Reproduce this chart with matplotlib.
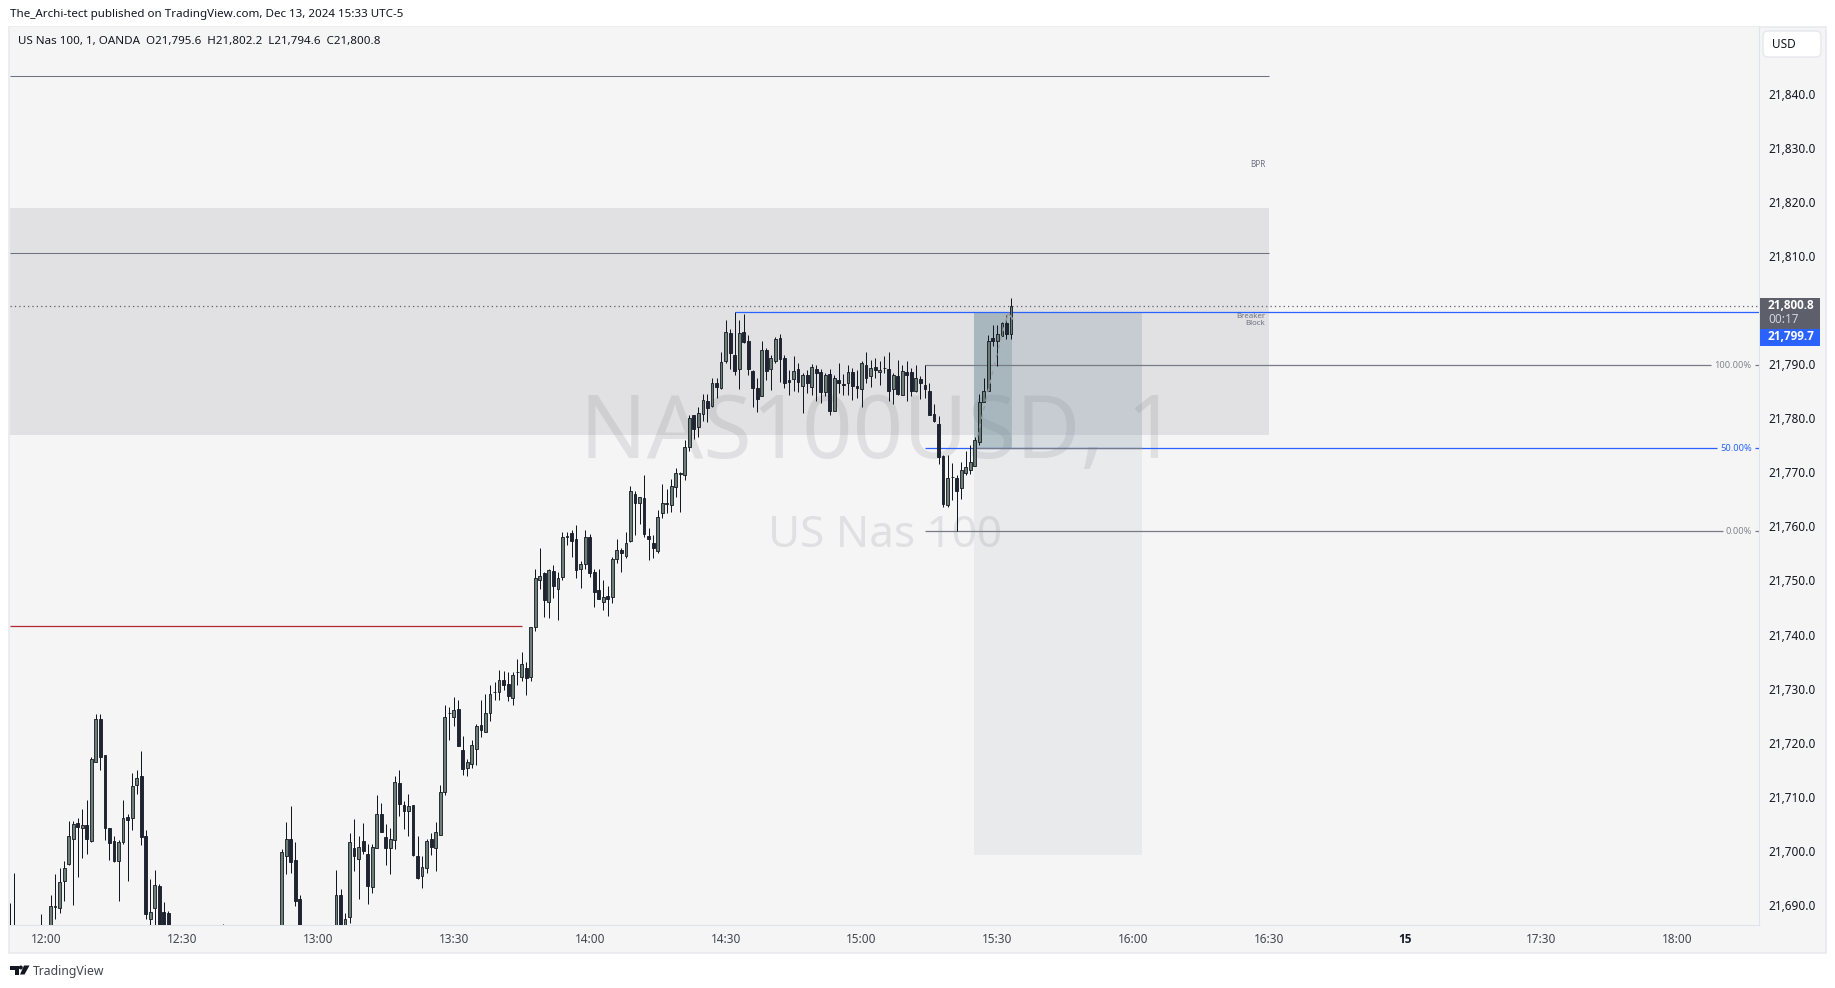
#!/usr/bin/env python3
# Recreates a 1 minute US Nas 100 TradingView snapshot
import matplotlib
matplotlib.use('Agg')
import matplotlib.pyplot as plt
from matplotlib.patches import Rectangle, FancyBboxPatch, Polygon, Circle
from matplotlib.transforms import blended_transform_factory
import numpy as np

W, H = 1835, 988
plt.rcParams['font.family'] = ['Noto Sans', 'DejaVu Sans']

''' Candles: minutes after 12:00, only the ones that show inside the window '''
minutes = [-8, -7, -1] + list(range(1, 28)) + [39] + list(range(52, 57)) + list(range(64, 214))

opens = [21680, 21680, 21680,
    21682, 21689.6, 21689.4, 21694.5, 21697.6, 21702.2, 21705.1, 21704.2, 21704.8, 21701.9,
    21716.5, 21724.3, 21717.7, 21704.3, 21701.8, 21698.2, 21701.7, 21706.2, 21706.0, 21712.1,
    21713.8, 21702.7, 21687.4, 21689.4, 21693.5, 21688.7, 21688.5,
    21680,
    21682, 21699.0, 21702.2, 21698.3, 21691.1,
    21684, 21691.9, 21684, 21687.8, 21700.5, 21698.5, 21701.8, 21699.4, 21693.4, 21700.5,
    21706.8, 21702.5, 21700.6, 21702.0, 21712.5, 21708.5, 21707.3, 21708.5, 21699.0, 21695.3,
    21696.8, 21702.2, 21700.5, 21702.9, 21710.8, 21725.4, 21724.8, 21726.3, 21718.6, 21715.4,
    21716.0, 21718.9, 21723.2, 21722.0, 21725.4, 21729.3, 21729.4, 21731.5, 21730.8, 21728.3,
    21733.0, 21732.2, 21733.8, 21732.1, 21741.3, 21750.0, 21751.3, 21746.1, 21751.7, 21748.5,
    21750.6, 21758.0, 21758.7, 21757.6, 21752.2, 21753.0, 21758.0, 21751.5, 21748.3, 21746.0,
    21747.1, 21746.9, 21754.0, 21755.6, 21754.6, 21757.3, 21766.0, 21764.4, 21765.2, 21758.3,
    21757.0, 21755.5, 21762.4, 21764.2, 21763.9, 21767.2, 21769.7, 21769.4, 21774.7, 21780.5,
    21778.3, 21780.8, 21783.1, 21782.3, 21786.4, 21785.5, 21790.6, 21795.7, 21791.6, 21789.0,
    21795.9, 21794.2, 21788.8, 21785.5, 21784.0, 21792.5, 21789.0, 21790.6, 21794.9, 21791.1,
    21787.0, 21787.3, 21789.0, 21786.0, 21787.9, 21785.8, 21789.0, 21788.6, 21784.9, 21788.1,
    21781.4, 21787.0, 21786.3, 21786.4, 21788.5, 21785.9, 21785.3, 21789.9, 21787.7, 21789.4,
    21788.5, 21789.2, 21789.0, 21785.3, 21787.7, 21784.3, 21788.6, 21788.5, 21785.1, 21787.2,
    21786.1, 21785.1, 21780.7, 21778.9, 21773.0, 21764.0, 21769.1, 21768.9, 21767.0, 21769.8,
    21770.5, 21771.2, 21775.5, 21783.0, 21785.1, 21794.9, 21794.3, 21795.1, 21797.5, 21795.6]

highs = [21690.4, 21695.9, 21688.4,
    21691.9, 21695.8, 21696.8, 21698.2, 21705.6, 21705.6, 21706.1, 21707.7, 21709.4, 21717.3,
    21725.3, 21725.3, 21717.7, 21704.3, 21702.8, 21702.0, 21709.4, 21706.8, 21714.4, 21715.0,
    21718.5, 21703.9, 21694.8, 21696.5, 21693.9, 21690.5, 21688.9,
    21686.5,
    21700.3, 21705.4, 21708.3, 21701.7, 21691.9,
    21696.5, 21693.0, 21688.5, 21703.3, 21705.9, 21702.8, 21705.1, 21701.2, 21701.2, 21710.3,
    21708.8, 21705.0, 21704.2, 21713.8, 21715.0, 21709.3, 21710.5, 21708.5, 21702.7, 21699.1,
    21702.2, 21703.3, 21705.4, 21712.1, 21727.0, 21726.6, 21728.4, 21727.9, 21721.2, 21717.0,
    21720.5, 21723.5, 21727.9, 21729.0, 21730.7, 21731.2, 21733.4, 21733.2, 21733.1, 21733.1,
    21735.5, 21736.7, 21735.0, 21741.3, 21752.1, 21756.0, 21751.6, 21752.2, 21752.8, 21751.5,
    21758.9, 21758.9, 21759.3, 21760.2, 21753.6, 21759.3, 21758.6, 21752.2, 21752.2, 21750.1,
    21749.0, 21754.3, 21757.6, 21755.9, 21758.9, 21767.5, 21766.5, 21765.5, 21769.5, 21759.6,
    21758.4, 21763.0, 21767.9, 21766.9, 21768.7, 21770.7, 21770.1, 21776.0, 21780.6, 21780.6,
    21782.1, 21784.4, 21784.4, 21787.5, 21787.5, 21792.2, 21798.1, 21796.5, 21799.6, 21798.1,
    21799.2, 21795.3, 21788.9, 21787.4, 21794.3, 21792.9, 21791.6, 21795.0, 21795.5, 21791.6,
    21788.9, 21791.5, 21790.1, 21788.3, 21788.9, 21790.0, 21789.8, 21789.1, 21788.3, 21789.0,
    21787.9, 21790.1, 21788.1, 21789.8, 21789.2, 21788.9, 21790.6, 21792.2, 21790.7, 21791.1,
    21790.6, 21791.5, 21792.3, 21788.3, 21790.7, 21789.8, 21790.6, 21789.2, 21789.8, 21787.7,
    21789.8, 21786.4, 21782.6, 21780.4, 21773.2, 21773.2, 21771.7, 21769.5, 21771.8, 21773.9,
    21775.0, 21776.6, 21784.5, 21787.4, 21795.4, 21797.3, 21797.2, 21797.7, 21799.1, 21802.2]

lows = [21678, 21678, 21678,
    21680, 21687.4, 21688.6, 21690.8, 21697.4, 21690.0, 21695.1, 21698.6, 21699.5, 21701.6,
    21716.5, 21714.9, 21702.1, 21698.4, 21697.9, 21690.8, 21701.3, 21694.5, 21703.8, 21710.5,
    21701.0, 21687.4, 21684, 21684, 21680, 21682, 21682,
    21678,
    21680, 21695.8, 21696.0, 21689.9, 21682,
    21682, 21682, 21682, 21686.6, 21696.2, 21691.1, 21699.5, 21690.2, 21692.3, 21700.5,
    21703.4, 21697.4, 21695.8, 21700.4, 21706.4, 21704.1, 21702.7, 21699.0, 21694.8, 21693.1,
    21695.9, 21699.2, 21696.2, 21702.9, 21710.4, 21720.5, 21723.1, 21719.3, 21714.0, 21713.9,
    21715.4, 21715.9, 21721.1, 21722.0, 21724.1, 21727.9, 21727.9, 21729.8, 21727.7, 21727.0,
    21730.7, 21731.4, 21728.8, 21731.4, 21740.7, 21748.4, 21743.3, 21743.0, 21746.8, 21742.6,
    21750.1, 21756.6, 21754.4, 21750.5, 21748.6, 21752.2, 21750.7, 21745.1, 21746.5, 21744.5,
    21743.5, 21745.9, 21753.3, 21751.6, 21754.2, 21757.1, 21758.4, 21760.5, 21758.1, 21753.7,
    21754.2, 21755.0, 21761.6, 21762.5, 21762.6, 21765.5, 21762.7, 21768.5, 21774.0, 21776.1,
    21776.6, 21779.5, 21779.2, 21782.1, 21783.8, 21785.3, 21790.2, 21789.1, 21788.0, 21785.3,
    21793.8, 21788.0, 21782.1, 21781.2, 21784.0, 21787.1, 21785.2, 21790.2, 21786.6, 21785.6,
    21784.3, 21785.0, 21784.9, 21781.0, 21784.6, 21784.3, 21783.2, 21782.8, 21784.0, 21780.6,
    21781.4, 21784.6, 21784.3, 21784.3, 21783.4, 21783.7, 21782.0, 21786.4, 21785.8, 21787.4,
    21786.1, 21788.3, 21783.2, 21782.7, 21784.3, 21784.3, 21783.2, 21784.1, 21784.9, 21783.6,
    21783.7, 21780.5, 21779.2, 21771.5, 21763.5, 21763.6, 21764.9, 21759.2, 21765.0, 21769.5,
    21769.6, 21771.2, 21775.0, 21783.0, 21785.0, 21793.3, 21789.6, 21795.1, 21794.7, 21794.6]

closes = [21680, 21680, 21680,
    21689.8, 21689.8, 21694.2, 21696.8, 21702.7, 21705.0, 21704.5, 21704.8, 21702.2, 21716.9,
    21724.3, 21717.3, 21704.3, 21701.4, 21698.2, 21701.6, 21706.0, 21705.8, 21712.0, 21713.4,
    21702.5, 21688.3, 21688.7, 21693.7, 21683, 21684, 21684,
    21680,
    21699.8, 21702.2, 21697.9, 21690.7, 21684,
    21691.9, 21684, 21687.4, 21701.6, 21699.0, 21700.7, 21700.0, 21693.6, 21700.7, 21706.8,
    21703.5, 21700.5, 21702.2, 21712.7, 21708.6, 21707.3, 21708.3, 21699.3, 21695.0, 21697.0,
    21701.8, 21700.7, 21703.5, 21710.8, 21724.7, 21725.5, 21726.0, 21719.3, 21715.2, 21716.4,
    21719.5, 21723.0, 21722.4, 21725.4, 21729.0, 21729.4, 21731.5, 21730.6, 21728.7, 21732.5,
    21733.0, 21734.5, 21731.9, 21741.3, 21750.4, 21750.8, 21746.3, 21752.0, 21749.0, 21750.4,
    21758.0, 21758.3, 21757.3, 21752.0, 21753.0, 21758.0, 21751.4, 21747.9, 21746.5, 21746.9,
    21746.6, 21753.9, 21755.7, 21755.0, 21756.9, 21766.5, 21764.3, 21765.4, 21758.5, 21757.6,
    21755.9, 21761.8, 21764.4, 21764.3, 21767.5, 21769.8, 21769.8, 21774.7, 21780.0, 21777.9,
    21780.9, 21783.3, 21781.8, 21786.4, 21785.8, 21790.3, 21796.0, 21792.0, 21788.8, 21795.7,
    21794.0, 21789.0, 21785.6, 21783.5, 21792.5, 21788.8, 21791.1, 21794.6, 21791.0, 21786.4,
    21786.6, 21788.8, 21786.6, 21787.9, 21786.4, 21789.4, 21788.4, 21784.9, 21787.9, 21781.4,
    21787.5, 21786.4, 21786.2, 21788.5, 21786.0, 21785.6, 21790.1, 21787.5, 21789.2, 21788.9,
    21788.9, 21789.3, 21785.1, 21787.9, 21784.5, 21788.8, 21788.0, 21785.1, 21787.4, 21786.4,
    21785.4, 21780.5, 21779.4, 21772.9, 21764.2, 21768.9, 21769.2, 21766.6, 21770.4, 21770.9,
    21771.8, 21775.9, 21782.9, 21785.1, 21794.2, 21794.3, 21795.5, 21797.5, 21795.6, 21800.8]

''' Levels and drawings read off the chart '''
price_ticks = [p for p in range(21690, 21850, 10) if p != 21800]
time_ticks = [0, 30, 60, 90, 120, 150, 180, 210, 240, 270, 300, 330, 360]
time_labels = ['12:00', '12:30', '13:00', '13:30', '14:00', '14:30', '15:00', '15:30',
               '16:00', '16:30', '15', '17:30', '18:00']
zone_top, zone_bottom = 21818.8, 21776.9
top_line, mid_line, red_line = 21843.2, 21810.5, 21741.6
last_price, blue_price = 21800.8, 21799.7
fib_prices = [21789.8, 21774.4, 21759.1]
fib_labels = ['100.00%', '50.00%', '0.00%']
fib_colors = ['#787b86', '#2962ff', '#787b86']
fib_ends = [367.5, 368.8, 370.1]
target_price = 21699.2
path_minutes = [205.6, 207.5, 209.5, 211, 212.4]
path_prices = [21776.6, 21783.5, 21790.5, 21795.5, 21799.4]

bg = '#f5f5f5'
ink = '#131722'
up_fill = '#6b7f74'
down_fill = '#1e2433'
x_left, x_right = -7.95, 378.1
box_left, box_right = 204.8, 242


def fx(px):
    return px / W


def fy(px):
    return 1 - px / H


fig = plt.figure(figsize=(W / 100, H / 100), dpi=100, facecolor='white')

''' Chart frame behind the axes, the price and time scales live on it '''
fig.patches.append(Rectangle((fx(9), fy(953)), fx(1817), 926 / H, transform=fig.transFigure,
                             facecolor=bg, edgecolor='#e9eaee', lw=1.2, zorder=-1))

ax = fig.add_axes([fx(10), fy(925), fx(1749), 898 / H])
ax.set_facecolor(bg)
ax.set_xlim(x_left, x_right)
ax.set_ylim(21686.3, 21852.3)
ax.yaxis.tick_right()
ax.set_yticks(price_ticks)
ax.set_yticklabels([f'{p:,.1f}' for p in price_ticks], va='center_baseline')
ax.set_xticks(time_ticks)
ax.set_xticklabels(time_labels)
ax.tick_params(axis='y', length=0, pad=6.5, labelsize=8.5, labelcolor=ink)
ax.tick_params(axis='x', length=0, pad=5.5, labelsize=8.5, labelcolor='#434651')
for lab in ax.get_xticklabels():
    if lab.get_text() == '15':
        lab.set_color(ink)
        lab.set_family('Open Sans')
        lab.set_fontweight('bold')
for side in ['top', 'left']:
    ax.spines[side].set_visible(False)
for side in ['right', 'bottom']:
    ax.spines[side].set_color('#e0e3eb')

''' Watermark goes first so the zone and boxes tint it '''
ax.text(183.7, 21776.8, 'NAS100USD, 1', ha='center', va='center', fontsize=63.5,
        color='#e0e0e2', zorder=0.5)
ax.text(185.2, 21758.3, 'US Nas 100', ha='center', va='center', fontsize=31.7,
        color='#e0e0e2', zorder=0.5)

ax.add_patch(Rectangle((x_left, zone_bottom), 270 - x_left, zone_top - zone_bottom,
                       facecolor='#5d606b', alpha=0.13, lw=0, zorder=1))
ax.add_patch(Rectangle((box_left, fib_prices[1]), box_right - box_left, blue_price - fib_prices[1],
                       facecolor='#78909c', alpha=0.25, lw=0, zorder=1.2))
ax.add_patch(Rectangle((box_left, target_price), box_right - box_left, fib_prices[1] - target_price,
                       facecolor='#78909c', alpha=0.1, lw=0, zorder=1.2))
ax.add_patch(Rectangle((box_left, fib_prices[1]), 213.2 - box_left, blue_price - fib_prices[1],
                       facecolor='#5a828c', alpha=0.28, lw=0, zorder=1.3))

ax.hlines(top_line, x_left, 270, color='#6f7280', lw=0.75, zorder=2)
ax.hlines(mid_line, x_left, 270, color='#6f7280', lw=0.75, zorder=2)
ax.hlines(red_line, x_left, 105, color='#b22833', lw=0.9, zorder=2)
ax.hlines(blue_price, 152, x_right, color='#2962ff', lw=0.9, zorder=2)
ax.hlines(last_price, x_left, x_right, color='#5d606b', lw=0.9, linestyles=(0, (1, 2.5)), zorder=2)

''' Fib levels with their labels to the right '''
label_tf = blended_transform_factory(fig.transFigure, ax.transData)
for price, text, color, end in zip(fib_prices, fib_labels, fib_colors, fib_ends):
    ax.hlines(price, 194, end, color=color, lw=0.9, zorder=2)
    ax.hlines(price, 377.3, x_right, color=color, lw=0.9, zorder=2)
    ax.text(fx(1751.7), price, text, transform=label_tf, ha='right', va='center', fontsize=6.7,
            color='#2962ff' if color == '#2962ff' else '#83868f', zorder=3)
ax.hlines(fib_prices[1], box_left, box_right, color='#787b86', lw=0.9, zorder=2.5)

ax.text(269.1, 21826.8, 'BPR', ha='right', va='center', fontsize=5.9, color='#6f7280', zorder=3)
ax.text(269.1, 21798.1, 'Breaker\nBlock', ha='right', va='center', fontsize=5.7, color='#6f7280',
        linespacing=0.95, zorder=3)

''' Candles, wick first then the body on top '''
t = np.array(minutes)
o = np.array(opens)
h = np.array(highs)
l = np.array(lows)
c = np.array(closes)
rising = c >= o
ax.vlines(t, l, h, color=ink, lw=0.72, zorder=4)
ax.bar(t[rising], (c - o)[rising], bottom=o[rising], width=0.62, color=up_fill, edgecolor=ink,
       lw=0.6, zorder=5)
ax.bar(t[~rising], (c - o)[~rising], bottom=o[~rising], width=0.62, color=down_fill, edgecolor=ink,
       lw=0.6, zorder=5)

''' Dashed projected path with a small head '''
ax.plot(path_minutes, path_prices, color='#9a9da6', lw=1, ls=(0, (3, 3.5)), zorder=6)
ax.plot([212.0, 212.4, 213.4], [21798.3, 21799.4, 21798.3], color='#9a9da6', lw=1, zorder=6)

''' Last price labels on the scale '''
fig.patches.append(Rectangle((fx(1760), fy(329.3)), fx(60), 31.3 / H, transform=fig.transFigure,
                             facecolor='#5d606b', lw=0, zorder=6))
fig.patches.append(Rectangle((fx(1760), fy(346)), fx(60), 16.7 / H, transform=fig.transFigure,
                             facecolor='#2962ff', lw=0, zorder=6))
fig.text(fx(1768), fy(305.7), '21,800.8', color='white', fontsize=8.5, family='Open Sans',
         fontweight='bold', va='center', zorder=7)
fig.text(fx(1768), fy(319.7), '00:17', color='#d1d4dc', fontsize=8.5, va='center', zorder=7)
fig.text(fx(1768), fy(336.7), '21,799.7', color='white', fontsize=8.5, family='Open Sans',
         fontweight='bold', va='center', zorder=7)

fig.patches.append(FancyBboxPatch((1766, H - 54), 52, 20, boxstyle='round,pad=3,rounding_size=5',
                                  transform=None, facecolor='white', edgecolor='#e6e8ee', lw=1, zorder=6))
fig.text(fx(1772), fy(44), 'USD', color=ink, fontsize=8.5, va='center', zorder=7)

''' Header, legend and footer text '''
fig.text(fx(10), fy(14.7), 'The_Archi-tect published on TradingView.com, Dec 13, 2024 15:33 UTC-5',
         color=ink, fontsize=8.35, va='center')
fig.text(fx(18), fy(41.7), 'US Nas 100, 1, OANDA  O21,795.6  H21,802.2  L21,794.6  C21,800.8',
         color=ink, fontsize=8.35, va='center', zorder=7)
fig.text(fx(33), fy(971), 'TradingView', color='#434651', fontsize=8.8, va='center')

''' TradingView logo '''
logo_ink = '#131722'
fig.patches.append(Polygon([(fx(10), fy(965.5)), (fx(18.5), fy(965.5)), (fx(18.5), fy(974.5)),
                            (fx(14.5), fy(974.5)), (fx(14.5), fy(969.5)), (fx(10), fy(969.5))],
                           transform=fig.transFigure, facecolor=logo_ink, lw=0))
fig.patches.append(Polygon([(fx(24), fy(965.5)), (fx(29.5), fy(965.5)), (fx(24.5), fy(974.5)),
                            (fx(20), fy(974.5))],
                           transform=fig.transFigure, facecolor=logo_ink, lw=0))
fig.patches.append(Circle((20.8, H - 967.5), 2, transform=None, facecolor=logo_ink, lw=0))

fig.savefig('out.png', dpi=100, facecolor='white')
